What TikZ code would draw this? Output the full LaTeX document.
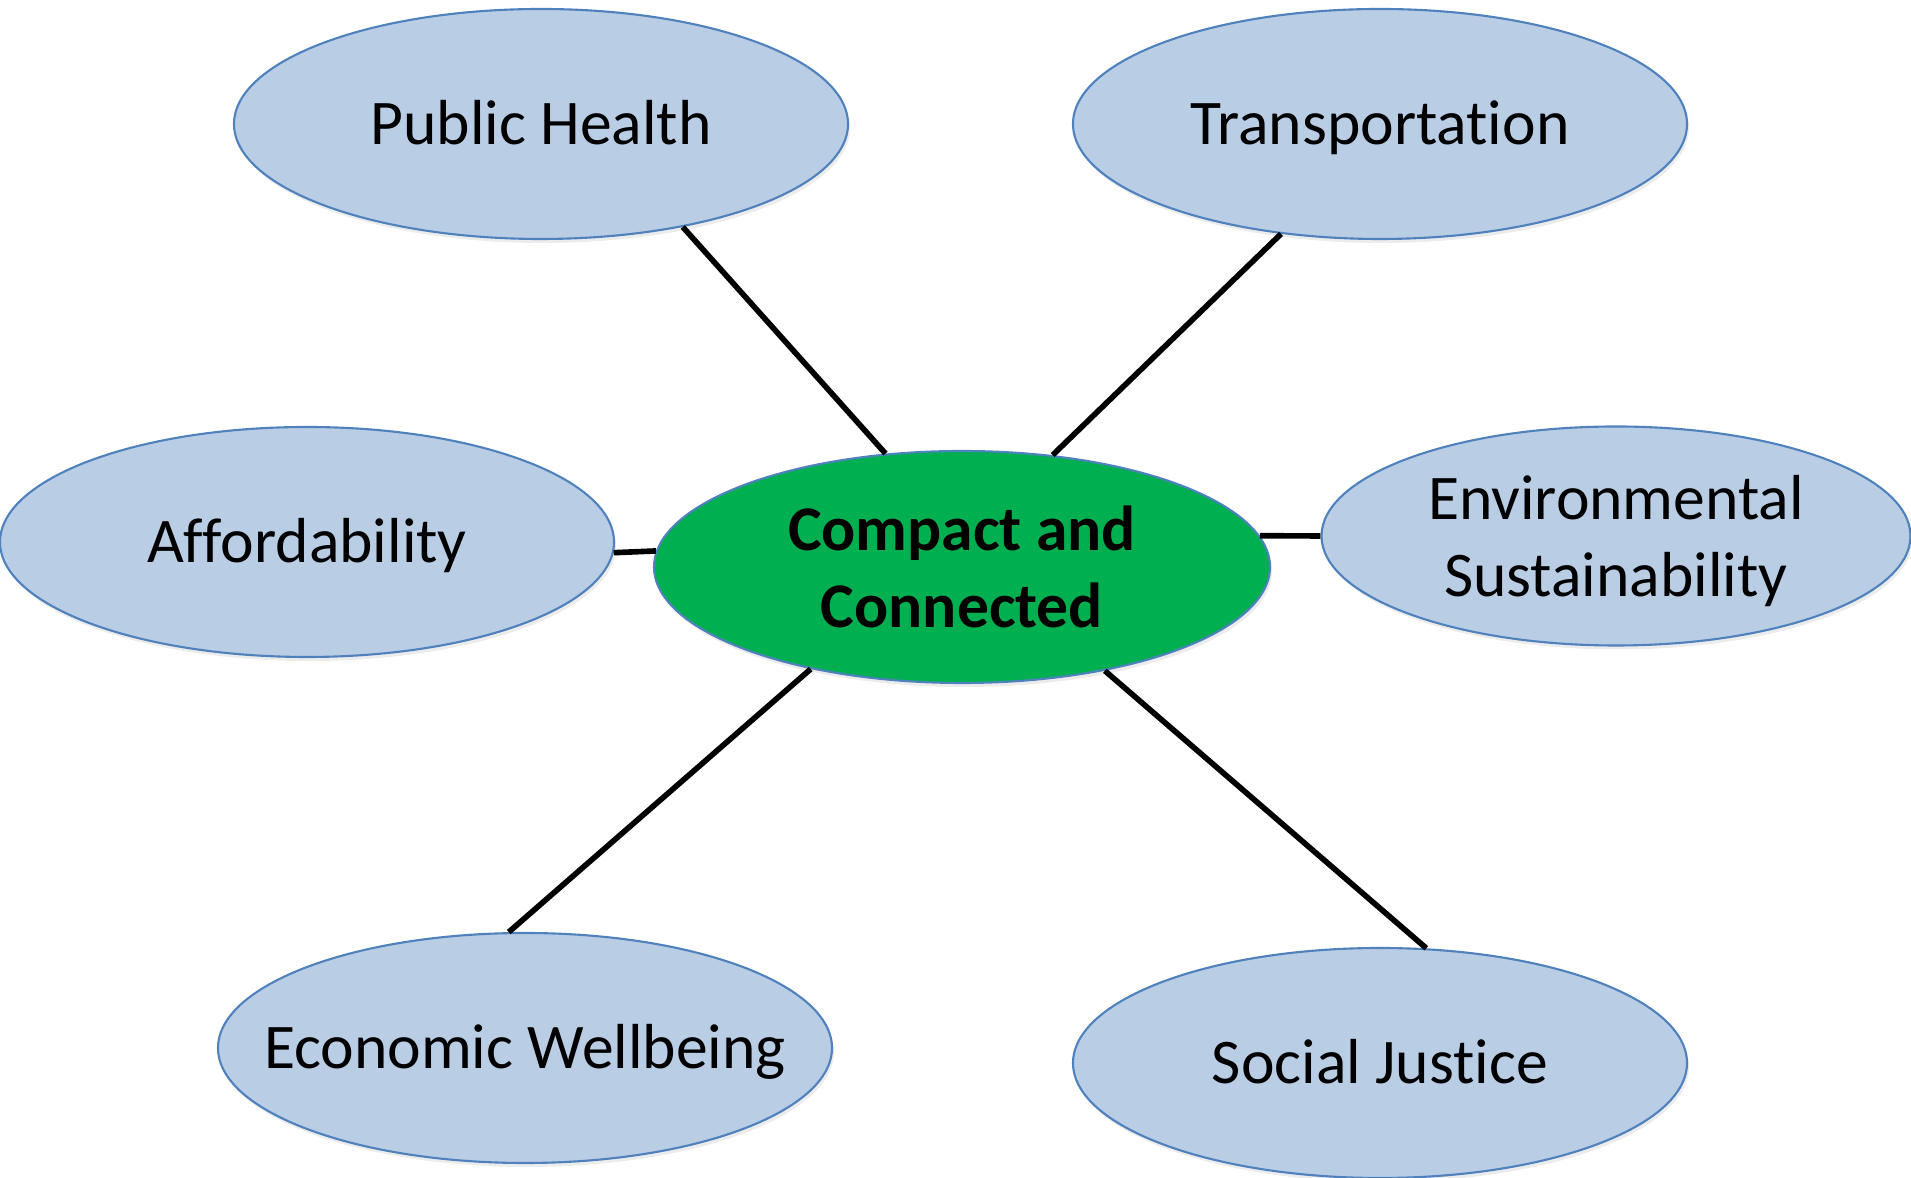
\documentclass[tikz,border=0pt]{standalone}
\usepackage{fontspec}
\setmainfont{Carlito}[Ligatures=NoCommon]
\usepackage{tikz}
\usetikzlibrary{shapes.geometric,shadows}
\definecolor{topicfill}{HTML}{B9CDE5}
\definecolor{topicedge}{HTML}{4F81BD}
\definecolor{hubgreen}{HTML}{00B050}
\tikzset{
  topic/.style={ellipse, draw=topicedge, line width=0.6pt, fill=topicfill,
    minimum width=6.14cm, minimum height=2.30cm, inner xsep=-1cm, inner ysep=0pt,
    align=center, font=\fontsize{18.1pt}{21.8pt}\selectfont,
    drop shadow={opacity=0.15, shadow xshift=0.02cm, shadow yshift=-0.04cm}},
  oneline/.style={topic, text height=0.41cm, text depth=0pt},
  hub/.style={topic, fill=hubgreen, minimum width=6.16cm, minimum height=2.32cm,
    font=\fontsize{18.1pt}{21.8pt}\selectfont\bfseries},
  link/.style={draw=black, line width=1.6pt}
}

\begin{document}
\begin{tikzpicture}
  \useasboundingbox (0,0) rectangle (19.11,11.78);
  \node[hub] (cc) at (9.62,6.11) {Compact and\\Connected};
  \node[oneline] (ph) at (5.41,10.54) {Public Health};
  \node[oneline] (tr) at (13.80,10.54) {Transportation};
  \node[oneline] (aff) at (3.07,6.36) {Affordability};
  \node[topic, minimum width=5.89cm, minimum height=2.19cm, text depth=0pt] (env)
    at (16.16,6.42) {Environmental\\Sustainability};
  \node[oneline] (eco) at (5.25,1.30) {Economic Wellbeing};
  \node[oneline] (soc) at (13.80,1.15) {Social Justice};
  \draw[link] (ph.-36) -- (cc.124);
  \draw[link] (tr.-132) -- (cc.51);
  \draw[link] (aff.-2) -- (cc.177);
  \draw[link] (env.180) -- (cc.6);
  \draw[link] (eco.98) -- (cc.-146);
  \draw[link] (soc.68) -- (cc.-36);
\end{tikzpicture}
\end{document}
